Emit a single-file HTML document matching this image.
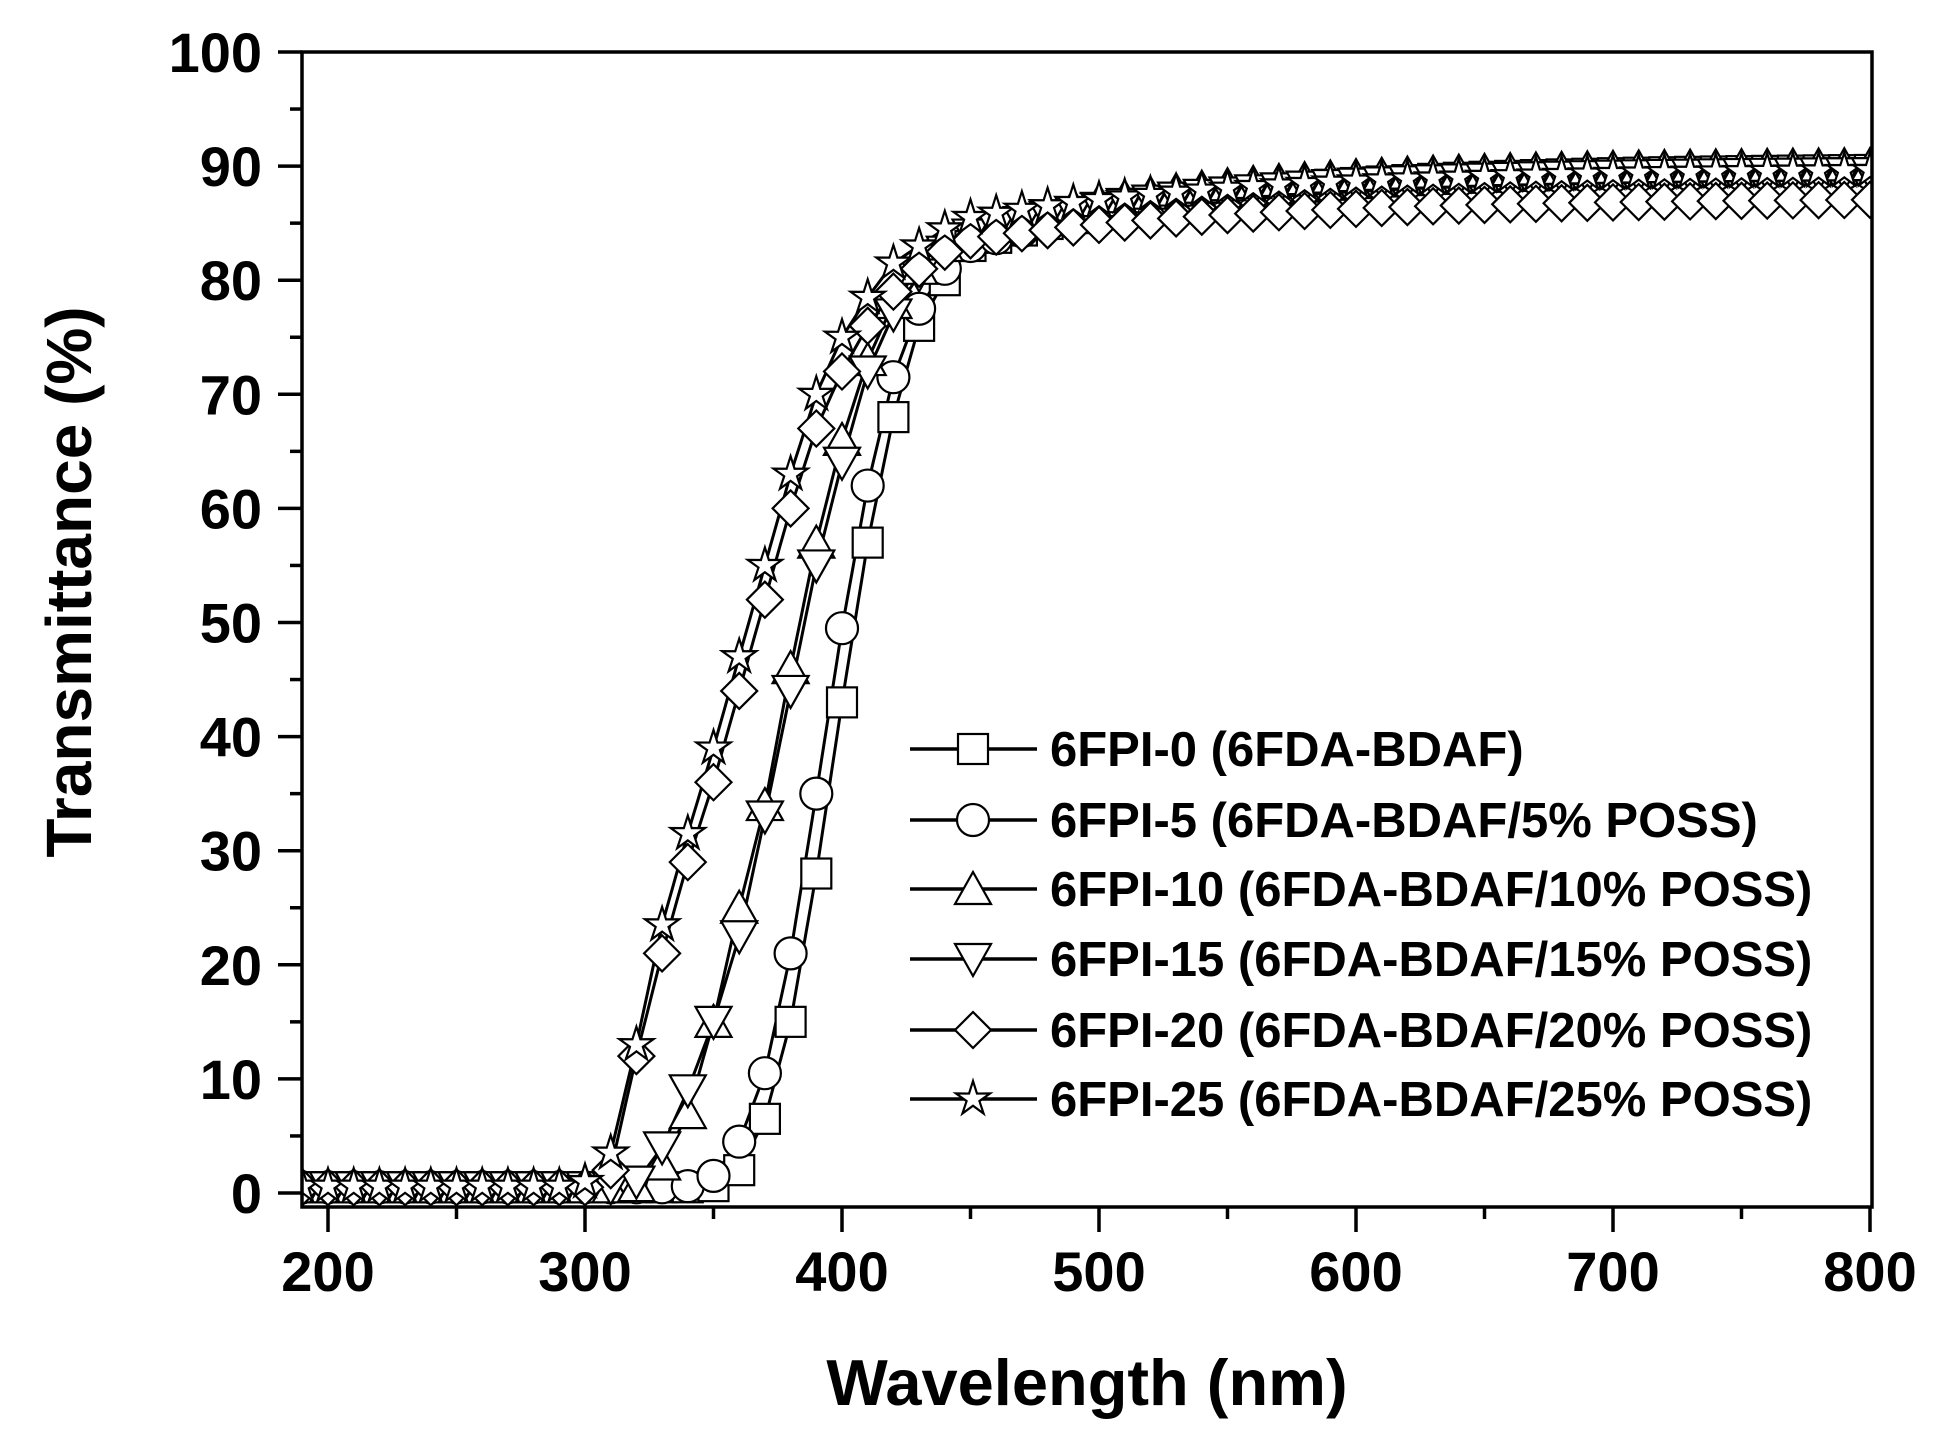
<!DOCTYPE html>
<html><head><meta charset="utf-8"><style>
html,body{margin:0;padding:0;background:#fff;}
svg{display:block;font-family:"Liberation Sans",Arial,sans-serif;font-weight:bold;}
</style></head><body>
<svg id="s" width="1941" height="1440" viewBox="0 0 1941 1440" xmlns="http://www.w3.org/2000/svg">
<defs><clipPath id="cp"><rect x="302" y="52" width="1570" height="1155"/></clipPath></defs>
<g id="plot" clip-path="url(#cp)"></g>
<g id="axes" stroke="#000" fill="none"></g>
<g id="txt" fill="#000"></g>
</svg>
<script>
var NS="http://www.w3.org/2000/svg";
function X(l){return 328+(l-200)*2.57;}
function Y(v){return 1193-v*11.41;}
function el(p,t,a,txt){var e=document.createElementNS(NS,t);for(var k in a)e.setAttribute(k,a[k]);if(txt!==undefined)e.textContent=txt;p.appendChild(e);return e;}
var plot=document.getElementById('plot'),axes=document.getElementById('axes'),txt=document.getElementById('txt');
var series=[
 {m:'sq',pts:[[340,0.5],[350,0.6],[360,2],[370,6.5],[380,15],[390,28],[400,43],[410,57],[420,68],[430,76],[440,80],[450,83]],max:89.8,k:90},
 {m:'ci',pts:[[330,0.5],[340,0.6],[350,1.5],[360,4.5],[370,10.5],[380,21],[390,35],[400,49.5],[410,62],[420,71.5],[430,77.5],[440,81],[450,83]],max:89.5,k:90},
 {m:'tu',pts:[[310,0.5],[320,0.6],[330,2.5],[340,7],[350,15],[360,25],[370,34],[380,46],[390,57],[400,66],[410,73],[420,78],[430,81],[440,83],[450,84.5]],max:90.2,k:90},
 {m:'td',pts:[[310,0.5],[320,1],[330,4],[340,9],[350,15],[360,22.5],[370,33],[380,44],[390,55],[400,64],[410,72],[420,77],[430,80.5],[440,82.5],[450,84]],max:89.5,k:90},
 {m:'di',pts:[[300,0.5],[310,2],[320,12],[330,21],[340,29],[350,36],[360,44],[370,52],[380,60],[390,67],[400,72],[410,76],[420,79],[430,81],[440,82.5],[450,83.5]],max:87.2,k:110},
 {m:'st',pts:[[290,0.6],[300,1],[310,3.5],[320,13],[330,23.5],[340,31.5],[350,39],[360,47],[370,55],[380,63],[390,70],[400,75],[410,78.5],[420,81.5],[430,83],[440,84.5],[450,85.5]],max:89.8,k:110}
];
function val(s,l){var p=s.pts;if(l<=p[0][0])return p[0][1];var last=p[p.length-1];
 if(l>=last[0]){return s.max-(s.max-last[1])*Math.exp(-(l-last[0])/s.k);}
 for(var i=0;i<p.length-1;i++){if(l>=p[i][0]&&l<=p[i+1][0]){var t=(l-p[i][0])/(p[i+1][0]-p[i][0]);return p[i][1]+t*(p[i+1][1]-p[i][1]);}}}
function marker(g,m,x,y){var a={fill:'#fff',stroke:'#000','stroke-width':2.2};var r=15;
 if(m=='sq'){a.x=x-r;a.y=y-r;a.width=2*r;a.height=2*r;el(g,'rect',a);}
 else if(m=='ci'){a.cx=x;a.cy=y;a.r=r+1;el(g,'circle',a);}
 else if(m=='tu'){a.points=[x,y-r-2,x+r+3,y+r,x-r-3,y+r].join(',');el(g,'polygon',a);}
 else if(m=='td'){a.points=[x,y+r+2,x+r+3,y-r,x-r-3,y-r].join(',');el(g,'polygon',a);}
 else if(m=='di'){a.points=[x,y-r-3,x+r+3,y,x,y+r+3,x-r-3,y].join(',');el(g,'polygon',a);}
 else {var pts=[];for(var i=0;i<10;i++){var ang=-Math.PI/2+i*Math.PI/5;var rr=i%2?r*0.45:r+3;pts.push(x+rr*Math.cos(ang),y+rr*Math.sin(ang));}a.points=pts.join(',');el(g,'polygon',a);}
}
series.forEach(function(s){var d='';for(var l=190;l<=800;l+=2){var v=val(s,l);d+=(l==190?'M':'L')+X(l).toFixed(1)+','+Y(v).toFixed(1);}
 el(plot,'path',{d:d,fill:'none',stroke:'#000','stroke-width':3});});
series.forEach(function(s){for(var l=190;l<=800;l+=10){marker(plot,s.m,X(l),Y(val(s,l)));}});
el(axes,'rect',{x:302,y:52,width:1570,height:1155,'stroke-width':3.5,fill:'none'});
for(var v=0;v<=100;v+=5){var y=Y(v);el(axes,'line',{x1:v%10?290:278,x2:302,y1:y,y2:y,'stroke-width':3.5});
 if(v%10==0)el(txt,'text',{x:262,y:y+20,'text-anchor':'end','font-size':56},String(v));}
for(var l=200;l<=800;l+=50){var x=X(l);el(axes,'line',{x1:x,x2:x,y1:1207,y2:l%100?1219:1232,'stroke-width':3.5});
 if(l%100==0)el(txt,'text',{x:x,y:1291,'text-anchor':'middle','font-size':56},String(l));}
el(txt,'text',{x:1087,y:1405,'text-anchor':'middle','font-size':65},'Wavelength (nm)');
el(txt,'text',{x:0,y:0,'text-anchor':'middle','font-size':64,transform:'translate(91,582) rotate(-90)'},'Transmittance (%)');
var labs=['6FPI-0 (6FDA-BDAF)','6FPI-5 (6FDA-BDAF/5% POSS)','6FPI-10 (6FDA-BDAF/10% POSS)','6FPI-15 (6FDA-BDAF/15% POSS)','6FPI-20 (6FDA-BDAF/20% POSS)','6FPI-25 (6FDA-BDAF/25% POSS)'];
var ly=[749,820,889,959,1030,1099];
labs.forEach(function(t,i){el(txt,'line',{x1:910,x2:1037,y1:ly[i],y2:ly[i],stroke:'#000','stroke-width':3.5});
 marker(txt,series[i].m,973,ly[i]);
 el(txt,'text',{x:1050,y:ly[i]+17,'font-size':49},t);});
</script>
</body></html>
